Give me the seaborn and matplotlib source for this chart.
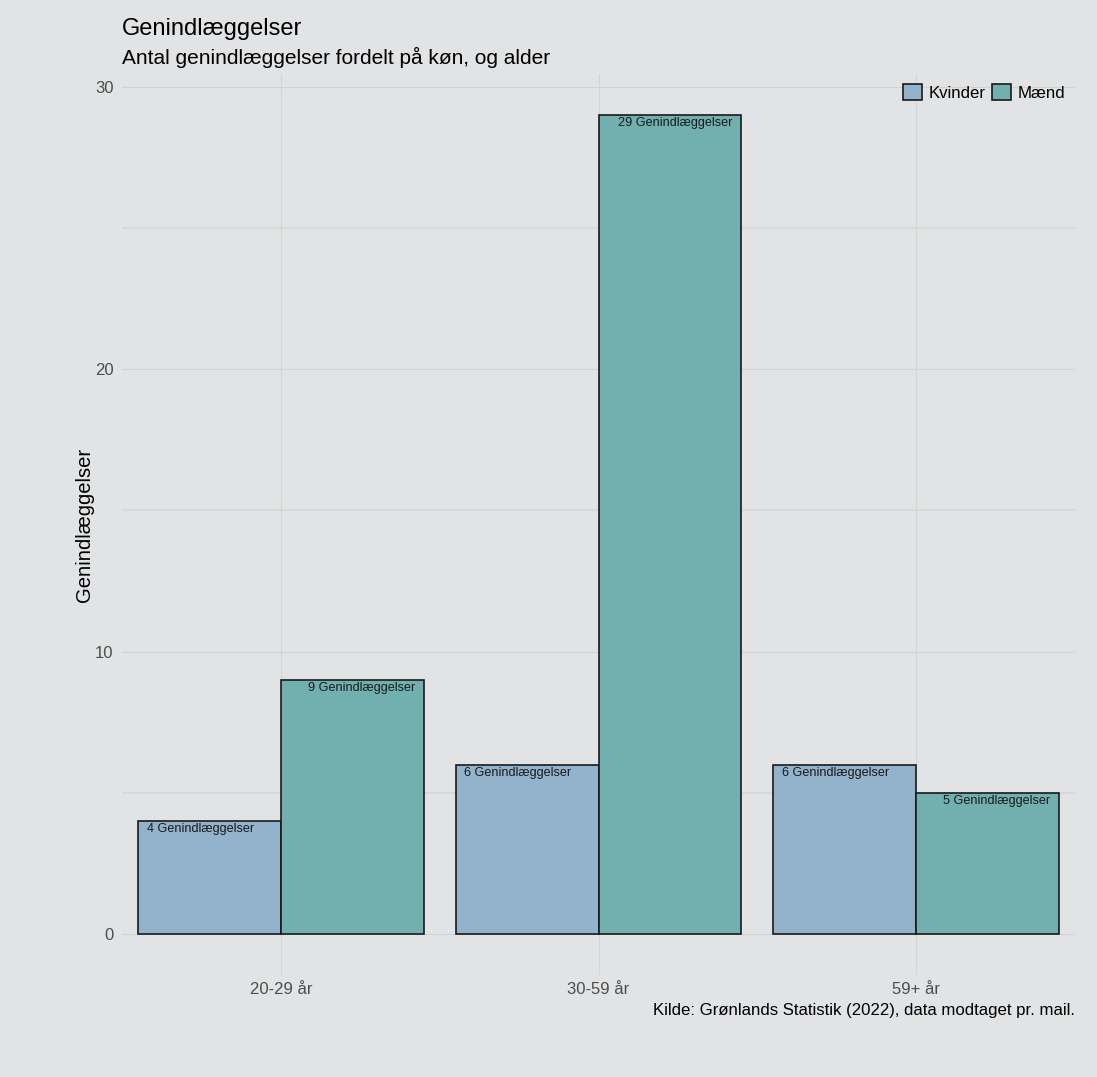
import numpy as np
import pandas as pd
import matplotlib
matplotlib.use("Agg")
import matplotlib.pyplot as plt
import seaborn as sns

# Data
aldersgrupper = ["20-29 år", "30-59 år", "59+ år"]
koen = ["Kvinder", "Mænd"]
kvinder = [4, 6, 6]
maend = [9, 29, 5]

farver = {"Kvinder": "#93B2CC", "Mænd": "#72B0B0"}
bg = "#E2E3E5"

df = pd.DataFrame({
    "alder": aldersgrupper * 2,
    "koen": ["Kvinder"] * 3 + ["Mænd"] * 3,
    "antal": kvinder + maend,
})

sns.set_theme(style="white")
plt.rcParams["font.family"] = ["Liberation Sans", "DejaVu Sans"]

fig = plt.figure(figsize=(10.97, 10.77), dpi=100, facecolor=bg)
ax = fig.add_axes([0.1112, 0.0947, 0.8688, 0.8366])
ax.set_facecolor(bg)

sns.barplot(data=df, x="alder", y="antal", hue="koen", order=aldersgrupper,
            hue_order=koen, palette=farver, width=0.9, edgecolor="#1a1a1a",
            linewidth=1.2, saturation=1, ax=ax, zorder=3)

ax.set_xlim(-0.5, 2.5)
ax.set_ylim(-1.45, 30.45)

# grid
for v in [0, 10, 20, 30]:
    ax.axhline(v, color="#D2D2D2", lw=0.8, zorder=1)
for v in [5, 15, 25]:
    ax.axhline(v, color="#D8D8D8", lw=1.2, zorder=1)
for i in range(len(aldersgrupper)):
    ax.axvline(i, color="#D4D4D4", lw=0.8, zorder=1)

# bar labels
for i, v in enumerate(kvinder):
    ax.text(i - 0.45 + 0.028, v - 0.08, f"{v} Genindlæggelser", ha="left",
            va="top", fontsize=9.1, color="#1a1a1a", zorder=4)
for i, v in enumerate(maend):
    ax.text(i + 0.45 - 0.028, v - 0.08, f"{v} Genindlæggelser", ha="right",
            va="top", fontsize=9.1, color="#1a1a1a", zorder=4)

ax.set_yticks([0, 10, 20, 30])
ax.tick_params(axis="both", labelsize=12, labelcolor="#4D4D4D", length=0, pad=6)
ax.tick_params(axis="x", pad=5)
for s in ax.spines.values():
    s.set_visible(False)

ax.set_xlabel("")
ax.set_ylabel("Genindlæggelser", fontsize=14.6, color="black", labelpad=1)

leg = ax.legend(title=None, ncol=2, loc="upper right", bbox_to_anchor=(1.0, 1.0),
                frameon=False, fontsize=12.1, handlelength=1.1, handleheight=1.1,
                columnspacing=0.4, handletextpad=0.4, borderaxespad=0.2)
for t in leg.get_texts():
    t.set_color("black")

fig.text(0.1112, 0.973, "Genindlæggelser", fontsize=17, ha="left",
         va="center", color="black")
fig.text(0.1112, 0.947, "Antal genindlæggelser fordelt på køn, og alder",
         fontsize=15, ha="left", va="center", color="black")
fig.text(0.980, 0.062, "Kilde: Grønlands Statistik (2022), data modtaget pr. mail.",
         fontsize=12.1, ha="right", va="center", color="black")

fig.savefig("out.png", dpi=100, facecolor=bg)
